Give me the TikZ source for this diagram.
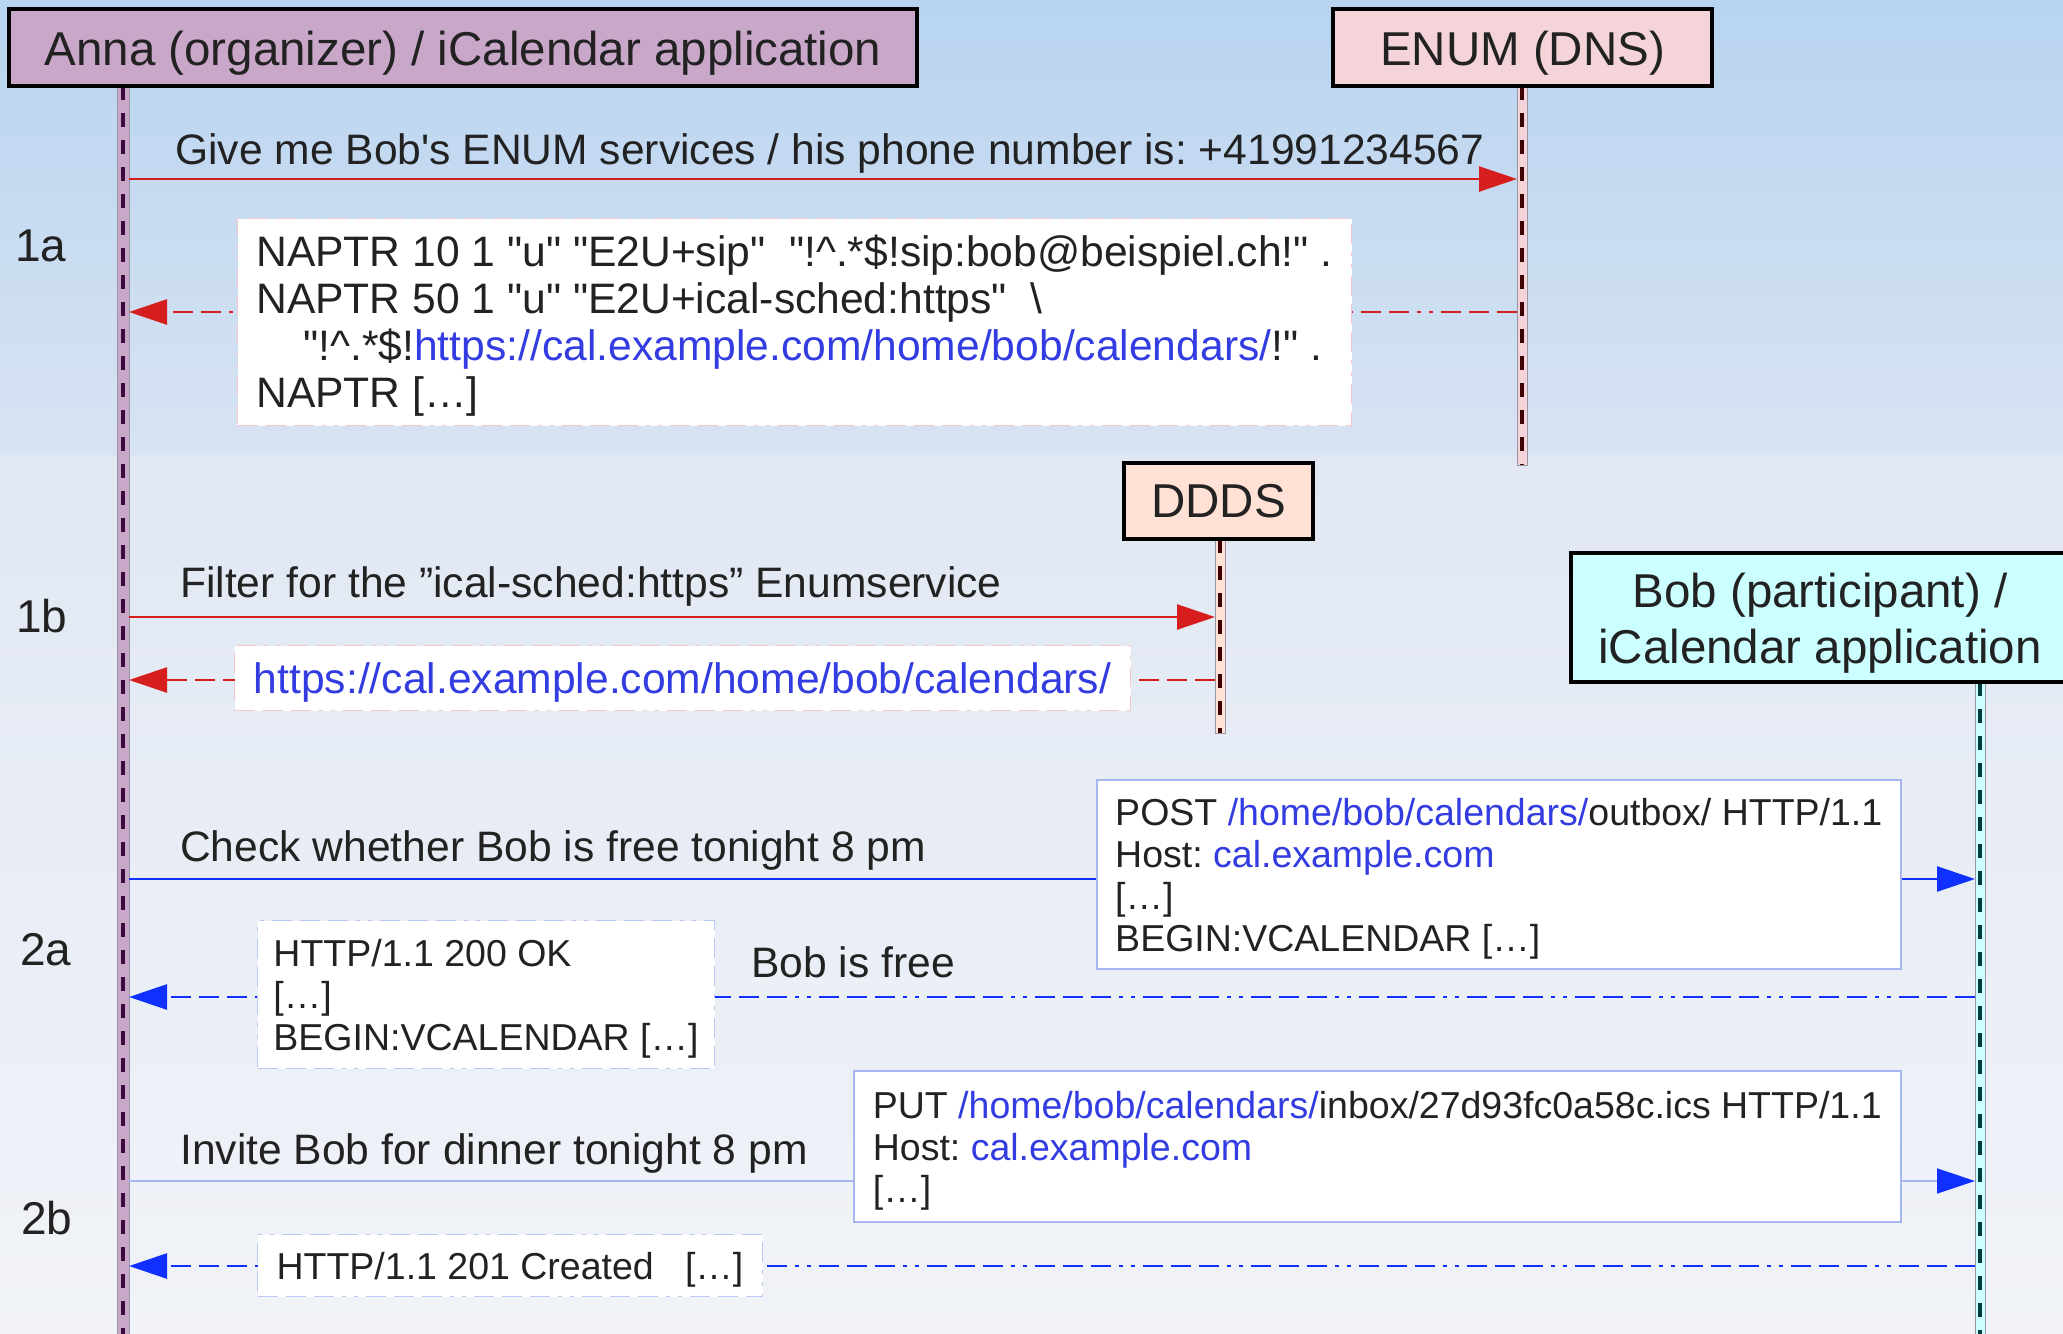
\documentclass[tikz,border=0pt]{standalone}
\usepackage{fontspec}
\setmainfont{Liberation Sans}[Ligatures=TeXOff]
\usetikzlibrary{arrows.meta}
\definecolor{txt}{RGB}{34,34,34}
\definecolor{annafill}{RGB}{201,167,201}
\definecolor{enumfill}{RGB}{244,212,217}
\definecolor{dddsfill}{RGB}{255,225,213}
\definecolor{bobfill}{RGB}{204,255,255}
\definecolor{annadash}{RGB}{60,10,60}
\definecolor{enumdash}{RGB}{60,0,0}
\definecolor{bobdash}{RGB}{0,60,60}
\definecolor{bandedge}{RGB}{150,150,165}
\definecolor{msgred}{RGB}{214,30,30}
\definecolor{msgblue}{RGB}{16,48,255}
\definecolor{lnkblue}{RGB}{50,60,225}
\definecolor{paleblue}{RGB}{165,182,240}
\definecolor{dashblue}{RGB}{185,200,245}
\definecolor{palered}{RGB}{244,200,205}
\definecolor{bgtop}{RGB}{184,212,240}
\definecolor{bgmid}{RGB}{216,227,242}
\definecolor{bgmidb}{RGB}{225,232,243}
\definecolor{bgbot}{RGB}{241,243,248}
\newcommand\lnk[1]{\textcolor{lnkblue}{#1}}
\begin{document}
\frenchspacing
\begin{tikzpicture}[x=1pt,y=-1pt,
  actor/.style={draw=black, line width=4pt, text=txt, font=\fontsize{47.5}{56}\selectfont\frenchspacing, inner sep=0pt, align=center},
  band/.style={draw=bandedge, line width=1pt},
  lldash/.style={line width=4pt, dash pattern=on 14pt off 13pt},
  msgtext/.style={text=txt, font=\fontsize{42.6}{47}\selectfont\frenchspacing, inner sep=0pt, yshift=-4pt},
  steplabel/.style={text=txt, font=\fontsize{46}{50}\selectfont, inner sep=0pt},
  reqline/.style={line width=2.5pt, -{Triangle[length=38pt,width=25pt]}},
  dashdot/.style={dash pattern=on 20pt off 8pt on 20pt off 8pt on 20pt off 8pt on 4pt off 8pt on 4pt off 8pt},
  respline/.style={line width=2.5pt, dashdot, -{Triangle[length=38pt,width=25pt]}},
  infobox/.style={fill=white, text=txt, align=left, inner xsep=0pt, inner ysep=0pt, line width=1.5pt, anchor=north west},
  bigbox/.style={infobox, font=\fontsize{42.6}{47}\selectfont\frenchspacing},
  httpbox/.style={infobox, font=\fontsize{37.5}{42}\selectfont\frenchspacing},
]
\newcommand\bigstrut{\rule{0pt}{39pt}}
\newcommand\httpstrut{\rule{0pt}{35.5pt}}
\newcommand\actstrut{\rule{0pt}{45pt}}
% background
\useasboundingbox (0,0) rectangle (2063,1333);
\shade[top color=bgtop, bottom color=bgmid] (0,0) rectangle (2063,455);
\shade[top color=bgmidb, bottom color=bgbot] (0,455) rectangle (2063,1333);

% lifelines
\coordinate (annaTop) at (123,86);  \coordinate (annaEnd) at (123,1340);
\coordinate (enumTop) at (1522,86); \coordinate (enumEnd) at (1522,465);
\coordinate (dddsTop) at (1220,539); \coordinate (dddsEnd) at (1220,733);
\coordinate (bobTop) at (1980,682); \coordinate (bobEnd) at (1980,1340);
\path[band, fill=annafill] ([xshift=-6pt]annaTop) rectangle ([xshift=6pt]annaEnd);
\path[band, fill=enumfill] ([xshift=-5pt]enumTop) rectangle ([xshift=5pt]enumEnd);
\path[band, fill=dddsfill] ([xshift=-5pt]dddsTop) rectangle ([xshift=5pt]dddsEnd);
\path[band, fill=bobfill] ([xshift=-5pt]bobTop) rectangle ([xshift=5pt]bobEnd);
\draw[lldash, annadash] (annaTop) -- (annaEnd);
\draw[lldash, enumdash] (enumTop) -- (enumEnd);
\draw[lldash, enumdash] (dddsTop) -- (dddsEnd);
\draw[lldash, bobdash] (bobTop) -- (bobEnd);

% actors
\node[actor, fill=annafill, minimum width=908pt, minimum height=77pt] (anna) at (463,47.5) {\actstrut Anna (organizer) / iCalendar application};
\node[actor, fill=enumfill, minimum width=379pt, minimum height=77pt] (enum) at (1522.5,47.5) {\actstrut ENUM (DNS)};
\node[actor, fill=dddsfill, minimum width=189pt, minimum height=76pt] (ddds) at (1218.5,501) {DDDS};
\node[actor, fill=bobfill, minimum width=498pt, minimum height=129pt] (bob) at (1820,617.5) {\actstrut Bob (participant) /\\iCalendar application};

% step labels
\node[steplabel] (l1a) at (41,246) {1a};
\node[steplabel] (l1b) at (42,616) {1b};
\node[steplabel] (l2a) at (46,950) {2a};
\node[steplabel] (l2b) at (47,1218) {2b};

% message end points
\coordinate (a1) at (129,179);  \coordinate (e1) at (1517,179);
\coordinate (e1r) at (1517,312); \coordinate (a1r) at (129,312);
\coordinate (a2) at (129,617);  \coordinate (d2) at (1215,617);
\coordinate (d2r) at (1215,680); \coordinate (a2r) at (129,680);
\coordinate (a3) at (129,879);  \coordinate (b3) at (1975,879);
\coordinate (b3r) at (1975,997); \coordinate (a3r) at (129,997);
\coordinate (a4) at (129,1181); \coordinate (b4) at (1975,1181);
\coordinate (b4r) at (1975,1266); \coordinate (a4r) at (129,1266);

% connectors
\draw[reqline, msgred] (a1) -- (e1);
\draw[respline, msgred] (e1r) -- (a1r);
\draw[reqline, msgred] (a2) -- (d2);
\draw[respline, msgred] (d2r) -- (a2r);
\draw[reqline, msgblue] (a3) -- (b3);
\draw[respline, msgblue] (b3r) -- (a3r);
\draw[line width=1.5pt, paleblue, -{Triangle[length=38pt,width=25pt,color=msgblue,fill=msgblue]}] (a4) -- (b4);
\draw[respline, msgblue] (b4r) -- (a4r);

% message texts
\node[msgtext, anchor=west] (t1) at (175,149) {Give me Bob's ENUM services / his phone number is: +41991234567};
\node[msgtext, anchor=west] (t1b) at (180,582) {Filter for the ”ical-sched:https” Enumservice};
\node[msgtext, anchor=west] (t2a) at (180,846) {Check whether Bob is free tonight 8 pm};
\node[msgtext, anchor=west] (t2b) at (180,1149) {Invite Bob for dinner tonight 8 pm};
\node[msgtext, yshift=4pt] (free) at (853,962) {Bob is free};

% content boxes
\node[bigbox, draw=palered, line width=1pt, dashdot, minimum width=1114pt, minimum height=207pt] (naptr) at (237,218)
 {\bigstrut NAPTR 10 1 "u" "E2U+sip"\ \ "!\textasciicircum.*\$!sip:bob@beispiel.ch!" .\\
  NAPTR 50 1 "u" "E2U+ical-sched:https"\ \ \textbackslash\\
  \hspace*{47pt}"!\textasciicircum.*\$!\lnk{https://cal.example.com/home/bob/calendars/}!" .\\
  NAPTR {[…]}};
\node[bigbox, draw=palered, line width=1pt, dashdot, minimum width=896pt, minimum height=65pt] (url) at (234,645)
 {\bigstrut\lnk{https://cal.example.com/home/bob/calendars/}};
\node[httpbox, draw=paleblue, minimum width=804pt, minimum height=189pt] (post) at (1096,779)
 {\httpstrut POST \lnk{/home/bob/calendars/}outbox/ HTTP/1.1\\
  Host: \lnk{cal.example.com}\\
  {[…]}\\
  BEGIN:VCALENDAR {[…]}};
\node[httpbox, draw=dashblue, line width=1pt, dashdot, minimum width=457pt, minimum height=148pt] (ok) at (257,920)
 {\httpstrut HTTP/1.1 200 OK\\
  {[…]}\\
  BEGIN:VCALENDAR {[…]}};
\node[httpbox, draw=paleblue, minimum width=1047pt, minimum height=151pt] (put) at (853,1070)
 {\httpstrut PUT \lnk{/home/bob/calendars/}inbox/27d93fc0a58c.ics HTTP/1.1\\
  Host: \lnk{cal.example.com}\\
  {[…]}};
\node[httpbox, draw=dashblue, line width=1pt, dashdot, minimum width=505pt, minimum height=62pt] (created) at (257,1234)
 {\httpstrut HTTP/1.1 201 Created\ \ \ {[…]}};
\end{tikzpicture}
\end{document}
